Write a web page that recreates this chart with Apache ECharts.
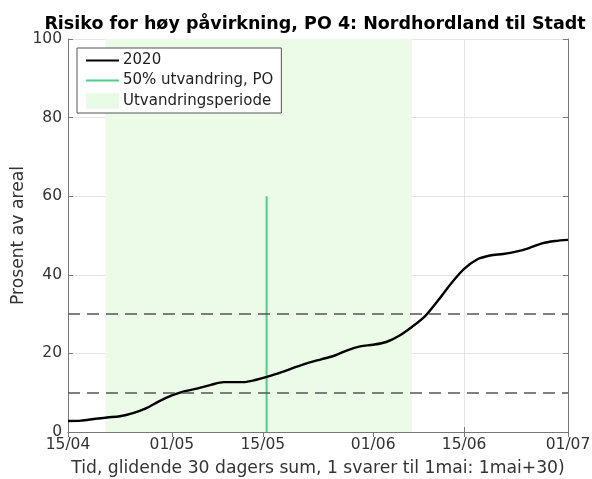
<!DOCTYPE html>
<html>
<head>
<meta charset="utf-8">
<script src="https://cdn.jsdelivr.net/npm/echarts@6/dist/echarts.min.js"></script>
<style>
  html, body { margin: 0; padding: 0; background: #fff; }
  #chart { width: 592px; height: 479px; }
</style>
</head>
<body>
<div id="chart"></div>
<script>
// data
const dates = ['2020-04-15','2020-04-17','2020-04-19','2020-04-21','2020-04-23','2020-04-25','2020-04-27','2020-04-29',
  '2020-05-01','2020-05-03','2020-05-05','2020-05-07','2020-05-09','2020-05-12','2020-05-14','2020-05-16',
  '2020-05-18','2020-05-20','2020-05-22','2020-05-24','2020-05-26','2020-05-28','2020-05-30','2020-06-01',
  '2020-06-03','2020-06-05','2020-06-07','2020-06-09','2020-06-11','2020-06-13','2020-06-15','2020-06-17',
  '2020-06-19','2020-06-21','2020-06-23','2020-06-25','2020-06-27','2020-06-29','2020-07-01'];
const values2020 = [2.8, 2.9, 3.3, 3.7, 4.0, 4.8, 6.0, 7.8,
  9.3, 10.4, 11.1, 12.0, 12.7, 12.7, 13.3, 14.2,
  15.3, 16.5, 17.6, 18.5, 19.4, 20.8, 21.8, 22.2,
  22.9, 24.5, 26.8, 29.5, 33.5, 37.8, 41.5, 43.9,
  44.9, 45.3, 45.9, 46.8, 48.0, 48.6, 48.9];
const tickDates = ['2020-04-15','2020-05-01','2020-05-15','2020-06-01','2020-06-15','2020-07-01'];
const utvandringDate = '2020-05-15T14:00:00';
const utvandringTop = 60;
const periodStart = '2020-04-20T18:00:00';
const periodEnd = '2020-06-07';
const thresholds = [10, 30];

const font = 'DejaVu Sans';
function ts(d) { return +new Date(d.length === 10 ? d + 'T00:00:00' : d); }
function pad(n) { return n < 10 ? '0' + n : '' + n; }
const tickTs = tickDates.map(ts);
const xMin = tickTs[0], xMax = tickTs[tickTs.length - 1];

var chart = echarts.init(document.getElementById('chart'));
chart.setOption({
    animation: false,
    backgroundColor: '#fff',
    title: {
        text: 'Risiko for høy påvirkning, PO 4: Nordhordland til Stadt',
        left: 310, top: 10, textAlign: 'center',
        textStyle: { fontFamily: font, fontSize: 17.5, fontWeight: 'bold', color: '#000' }
    },
    grid: { left: 68, right: 24, top: 39, bottom: 47, outerBoundsMode: 'none' },
    legend: {
        orient: 'vertical', left: 77, top: 48,
        padding: [5, 8, 4, 8],
        itemGap: 5, itemWidth: 33, itemHeight: 16,
        backgroundColor: '#fff', borderColor: '#555', borderWidth: 1,
        textStyle: { fontFamily: font, fontSize: 15, color: '#222', padding: [0, 0, 0, -1] },
        data: [
            { name: '2020', itemStyle: { opacity: 0 } },
            { name: '50% utvandring, PO', itemStyle: { opacity: 0 } },
            { name: 'Utvandringsperiode', icon: 'rect', itemStyle: { color: '#e9fae6' } }
        ]
    },
    xAxis: [{
        type: 'value', min: xMin, max: xMax,
        axisLine: { lineStyle: { color: '#777' } },
        axisTick: { inside: true, length: 5, customValues: tickTs, lineStyle: { color: '#777' } },
        axisLabel: {
            customValues: tickTs, fontFamily: font, fontSize: 15.5, color: '#333', margin: 5,
            formatter: function (v) { var d = new Date(v); return pad(d.getDate()) + '/' + pad(d.getMonth() + 1); }
        },
        splitLine: { show: true, lineStyle: { color: '#e4e4e4' } },
        name: 'Tid, glidende 30 dagers sum, 1 svarer til 1mai: 1mai+30)',
        nameLocation: 'middle', nameGap: 28,
        nameTextStyle: { fontFamily: font, fontSize: 17.2, color: '#333' }
    }, {
        type: 'value', min: xMin, max: xMax, position: 'top',
        axisLine: { lineStyle: { color: '#777' } },
        axisTick: { inside: true, length: 5, customValues: tickTs, lineStyle: { color: '#777' } },
        axisLabel: { show: false }, splitLine: { show: false }
    }],
    yAxis: [{
        type: 'value', min: 0, max: 100, interval: 20,
        axisLine: { show: true, lineStyle: { color: '#777' } },
        axisTick: { show: true, inside: true, length: 5, lineStyle: { color: '#777' } },
        axisLabel: { fontFamily: font, fontSize: 15.5, color: '#333', margin: 6 },
        splitLine: { show: true, lineStyle: { color: '#e4e4e4' } },
        name: 'Prosent av areal', nameLocation: 'middle', nameGap: 41, nameMoveOverlap: false,
        nameTextStyle: { fontFamily: font, fontSize: 17.2, color: '#333' }
    }, {
        type: 'value', min: 0, max: 100, interval: 20, position: 'right',
        axisLine: { show: true, lineStyle: { color: '#777' } },
        axisTick: { show: true, inside: true, length: 5, lineStyle: { color: '#777' } },
        axisLabel: { show: false }, splitLine: { show: false }
    }],
    series: [{
        name: 'Utvandringsperiode', type: 'line', data: [],
        itemStyle: { color: '#e9fae6' },
        markArea: {
            silent: true,
            itemStyle: { color: '#ebfbe8' },
            data: [[{ xAxis: ts(periodStart) }, { xAxis: ts(periodEnd) }]]
        }
    }, {
        name: '50% utvandring, PO', type: 'line', symbol: 'none',
        lineStyle: { color: '#52cc8c', width: 2 }, itemStyle: { color: '#52cc8c' },
        data: [[ts(utvandringDate), 0], [ts(utvandringDate), utvandringTop]], z: 3
    }, {
        name: '2020', type: 'line', symbol: 'none', smooth: 0.3,
        lineStyle: { color: '#000', width: 2.4 }, itemStyle: { color: '#000' },
        data: dates.map((d, i) => [ts(d), values2020[i]]), z: 4,
        markLine: {
            silent: true, symbol: 'none', label: { show: false },
            lineStyle: { color: '#555', type: [12, 7], width: 1.5 },
            data: thresholds.map(v => ({ yAxis: v }))
        }
    }]
});
</script>
</body>
</html>
